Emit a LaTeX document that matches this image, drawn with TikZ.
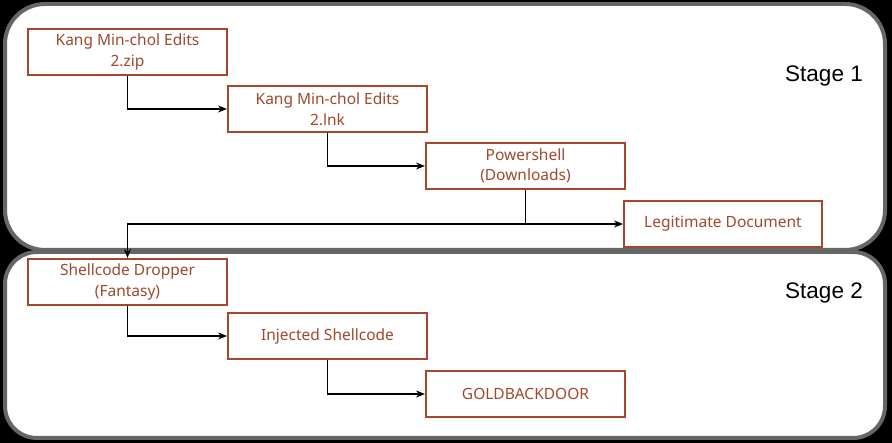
\documentclass[tikz,border=0pt]{standalone}
\usepackage{fontspec}
\setmainfont{Noto Sans}
\newfontfamily\stagefont{Liberation Sans}
\usetikzlibrary{arrows.meta}
\definecolor{brd}{HTML}{A8452B}
\definecolor{txt}{HTML}{A0482C}
\definecolor{frame}{HTML}{666666}
\begin{document}
\begin{tikzpicture}[x=1pt,y=-1pt,
  stepbox/.style={draw=brd,line width=2pt,fill=white,minimum width=199pt,minimum height=46pt,
    inner sep=0pt,text=txt,font=\fontsize{15.5}{20.5}\selectfont,align=center,anchor=north west},
  conn/.style={draw=black,line width=1.8pt,-{Stealth[length=9pt,width=7pt,inset=3pt]}},
  stagebox/.style={draw=frame,line width=4pt,fill=white},
  stagelbl/.style={font=\stagefont\fontsize{22.5}{26}\selectfont,text=black}]
\useasboundingbox (0,0) rectangle (892,443);
\fill[black] (0,0) rectangle (892,443);
\draw[stagebox,rounded corners=40pt] (5,4) rectangle (885,250);
\draw[stagebox,rounded corners=32pt] (5,252) rectangle (885,438);
\node[stagelbl] (s1) at (824,76) {Stage 1};
\node[stagelbl] (s2) at (824,293) {Stage 2};
\node[stepbox] (zip) at (27,28) {Kang Min-chol Edits\\2.zip};
\node[stepbox] (lnk) at (227,85) {Kang Min-chol Edits\\2.lnk};
\node[stepbox] (ps) at (425,142) {Powershell\\(Downloads)};
\node[stepbox,minimum width=198pt] (doc) at (623,200) {Legitimate Document};
\node[stepbox] (drop) at (27,258) {Shellcode Dropper\\(Fantasy)};
\node[stepbox] (inj) at (227,312) {Injected Shellcode};
\node[stepbox] (gold) at (425,370) {GOLDBACKDOOR};
\coordinate (j) at (ps.south |- doc.west);
\draw[conn] (zip.south) |- (lnk.west);
\draw[conn] (lnk.south) |- (ps.west);
\draw[conn] (ps.south) -- (j) -- (doc.west);
\draw[conn] (j) -| (drop.north);
\draw[conn] (drop.south) |- (inj.west);
\draw[conn] (inj.south) |- (gold.west);
\end{tikzpicture}
\end{document}
